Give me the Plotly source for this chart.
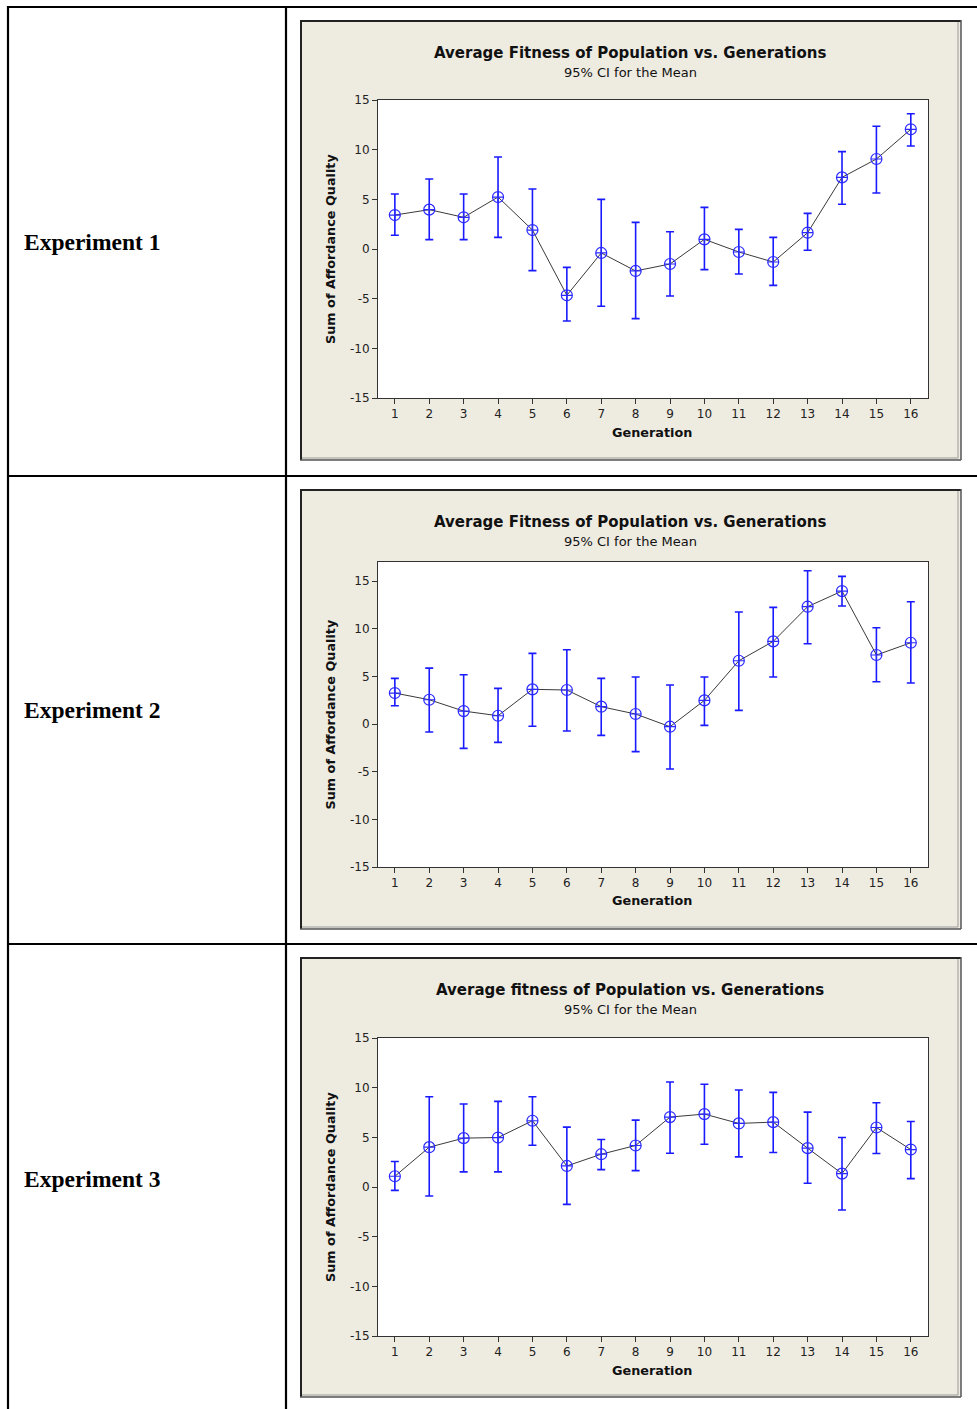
import plotly.graph_objects as go

W, H = 977, 1409

generations = list(range(1, 17))

exp1_mean = [3.42, 3.96, 3.19, 5.23, 1.91, -4.66, -0.40, -2.21, -1.51, 0.97, -0.30, -1.31, 1.64, 7.21, 9.06, 12.05]
exp1_upper = [5.54, 7.05, 5.54, 9.26, 6.04, -1.85, 5.00, 2.68, 1.74, 4.19, 1.98, 1.17, 3.59, 9.80, 12.35, 13.62]
exp1_lower = [1.38, 0.94, 0.94, 1.17, -2.18, -7.25, -5.77, -7.01, -4.73, -2.08, -2.52, -3.66, -0.13, 4.50, 5.64, 10.37]

exp2_mean = [3.25, 2.55, 1.36, 0.87, 3.64, 3.57, 1.82, 1.05, -0.28, 2.48, 6.64, 8.67, 12.31, 13.95, 7.24, 8.53]
exp2_upper = [4.79, 5.87, 5.17, 3.74, 7.41, 7.80, 4.79, 4.93, 4.09, 4.93, 11.75, 12.24, 16.08, 15.49, 10.10, 12.83]
exp2_lower = [1.92, -0.84, -2.55, -1.92, -0.24, -0.73, -1.19, -2.90, -4.72, -0.14, 1.43, 4.93, 8.43, 12.38, 4.44, 4.30]

exp3_mean = [1.08, 4.01, 4.92, 4.98, 6.67, 2.12, 3.30, 4.18, 7.04, 7.34, 6.40, 6.53, 3.91, 1.35, 5.99, 3.77]
exp3_upper = [2.56, 9.09, 8.35, 8.62, 9.09, 6.03, 4.78, 6.73, 10.57, 10.34, 9.76, 9.53, 7.54, 4.98, 8.48, 6.60]
exp3_lower = [-0.34, -0.91, 1.52, 1.52, 4.21, -1.75, 1.75, 1.65, 3.40, 4.31, 3.03, 3.47, 0.37, -2.32, 3.37, 0.84]

y_ticks = [-15, -10, -5, 0, 5, 10, 15]
titles = ["Average Fitness of Population vs. Generations",
          "Average Fitness of Population vs. Generations",
          "Average fitness of Population vs. Generations"]
subtitle = "95% CI for the Mean"
row_labels = ["Experiment 1", "Experiment 2", "Experiment 3"]
x_title = "Generation"
y_title = "Sum of Affordance Quality"

series = [(exp1_mean, exp1_upper, exp1_lower),
          (exp2_mean, exp2_upper, exp2_lower),
          (exp3_mean, exp3_upper, exp3_lower)]


def px(x):
    return x / W


def py(y):
    return 1 - y / H


plot_x = (378, 928)
plots_y = [(100, 398), (562, 867), (1038, 1336)]
y_ranges = [[-15, 15], [-15, 17], [-15, 15]]
panels_y = [(20, 460), (489, 929), (957, 1397)]
title_y = [53, 522, 990]
sub_y = [72, 541, 1009]
xlab_y = [432, 901, 1370]
rowlab_y = [242, 710, 1179]

BEIGE = "#EEEBE1"
TICKFONT = dict(family="DejaVu Sans", size=12, color="#222222")

fig = go.Figure()
shapes = []
annotations = []

for i in range(3):
    top, bot = panels_y[i]
    shapes.append(dict(type="rect", xref="paper", yref="paper",
                       x0=px(300), x1=px(961), y0=py(bot), y1=py(top),
                       fillcolor=BEIGE, line=dict(width=0), layer="below"))
    shapes.append(dict(type="line", xref="paper", yref="paper",
                       x0=px(300), x1=px(961), y0=py(top + 1), y1=py(top + 1),
                       line=dict(color="#222222", width=2)))
    shapes.append(dict(type="line", xref="paper", yref="paper",
                       x0=px(301), x1=px(301), y0=py(bot), y1=py(top),
                       line=dict(color="#222222", width=2)))
    shapes.append(dict(type="line", xref="paper", yref="paper",
                       x0=px(958), x1=px(958), y0=py(bot - 2), y1=py(top + 2),
                       line=dict(color="#9A9A9A", width=1)))
    shapes.append(dict(type="line", xref="paper", yref="paper",
                       x0=px(961), x1=px(961), y0=py(bot), y1=py(top),
                       line=dict(color="#555555", width=1.5)))
    shapes.append(dict(type="line", xref="paper", yref="paper",
                       x0=px(302), x1=px(958), y0=py(bot - 2), y1=py(bot - 2),
                       line=dict(color="#9A9A9A", width=1)))
    shapes.append(dict(type="line", xref="paper", yref="paper",
                       x0=px(300), x1=px(961), y0=py(bot), y1=py(bot),
                       line=dict(color="#555555", width=1.5)))
    t, b = plots_y[i]
    shapes.append(dict(type="rect", xref="paper", yref="paper",
                       x0=px(plot_x[0]), x1=px(plot_x[1]), y0=py(b), y1=py(t),
                       fillcolor="white", line=dict(width=0), layer="below"))

    mean, up, lo = series[i]
    sfx = "" if i == 0 else str(i + 1)
    fig.add_trace(go.Scatter(
        x=generations, y=mean, mode="lines+markers",
        xaxis="x" + sfx, yaxis="y" + sfx,
        line=dict(color="#3A3A3A", width=1),
        marker=dict(symbol="circle-cross-open", size=11, color="#2A2AFF",
                    line=dict(width=1.2, color="#2A2AFF")),
        error_y=dict(type="data", symmetric=False,
                     array=[u - m for u, m in zip(up, mean)],
                     arrayminus=[m - l for m, l in zip(mean, lo)],
                     color="#1A1AFF", thickness=1.6, width=4),
        showlegend=False, hoverinfo="skip"))

    axis_common = dict(showgrid=False, zeroline=False, showline=True,
                       linecolor="#333333", linewidth=1, mirror=True,
                       ticks="outside", ticklen=5, tickcolor="#333333",
                       tickfont=TICKFONT, automargin=False)
    fig.update_layout(**{
        "xaxis" + sfx: dict(domain=[px(plot_x[0]), px(plot_x[1])],
                            anchor="y" + sfx, range=[0.51, 16.5],
                            tickmode="array", tickvals=generations,
                            ticktext=[str(g) for g in generations],
                            **axis_common),
        "yaxis" + sfx: dict(domain=[py(b), py(t)], anchor="x" + sfx,
                            range=y_ranges[i], tickmode="array",
                            tickvals=y_ticks,
                            ticktext=[str(v) for v in y_ticks],
                            **axis_common),
    })

    annotations.append(dict(x=px(630), y=py(title_y[i]), xref="paper", yref="paper",
                            text="<b>" + titles[i] + "</b>", showarrow=False,
                            xanchor="center", yanchor="middle",
                            font=dict(family="DejaVu Sans", size=15, color="#111111")))
    annotations.append(dict(x=px(630), y=py(sub_y[i]), xref="paper", yref="paper",
                            text=subtitle, showarrow=False,
                            xanchor="center", yanchor="middle",
                            font=dict(family="DejaVu Sans", size=13, color="#111111")))
    annotations.append(dict(x=px(652), y=py(xlab_y[i]), xref="paper", yref="paper",
                            text="<b>" + x_title + "</b>", showarrow=False,
                            xanchor="center", yanchor="middle",
                            font=dict(family="DejaVu Sans", size=12.8, color="#111111")))
    annotations.append(dict(x=px(330), y=py((t + b) / 2), xref="paper", yref="paper",
                            text="<b>" + y_title + "</b>", showarrow=False,
                            textangle=-90, xanchor="center", yanchor="middle",
                            font=dict(family="DejaVu Sans", size=12.8, color="#111111")))
    annotations.append(dict(x=px(22), y=py(rowlab_y[i]), xref="paper", yref="paper",
                            text="<b>" + row_labels[i] + "</b>", showarrow=False,
                            xanchor="left", yanchor="middle",
                            font=dict(family="Liberation Serif", size=23.5, color="#000000")))

for (x0, y0, x1, y1) in [(7, 7, 977, 7), (8, 6, 8, 1409), (286, 6, 286, 1409),
                         (7, 476, 977, 476), (7, 944, 977, 944)]:
    shapes.append(dict(type="line", xref="paper", yref="paper",
                       x0=px(x0), x1=px(x1), y0=py(y0), y1=py(y1),
                       line=dict(color="#000000", width=2.2)))

fig.update_layout(width=W, height=H,
                  margin=dict(l=0, r=0, t=0, b=0, pad=0, autoexpand=False),
                  paper_bgcolor="white", plot_bgcolor="rgba(0,0,0,0)",
                  shapes=shapes, annotations=annotations)

fig.write_html(
    "out.html",
    config={"displayModeBar": False},
    post_script=(
        "document.documentElement.style.margin='0';"
        "document.body.style.margin='0';document.body.style.padding='0';"
        "document.documentElement.style.overflow='hidden';"
        "var gd=document.getElementById('{plot_id}');"
        "gd.style.position='fixed';gd.style.left='0px';gd.style.top='0px';"
    ),
)
